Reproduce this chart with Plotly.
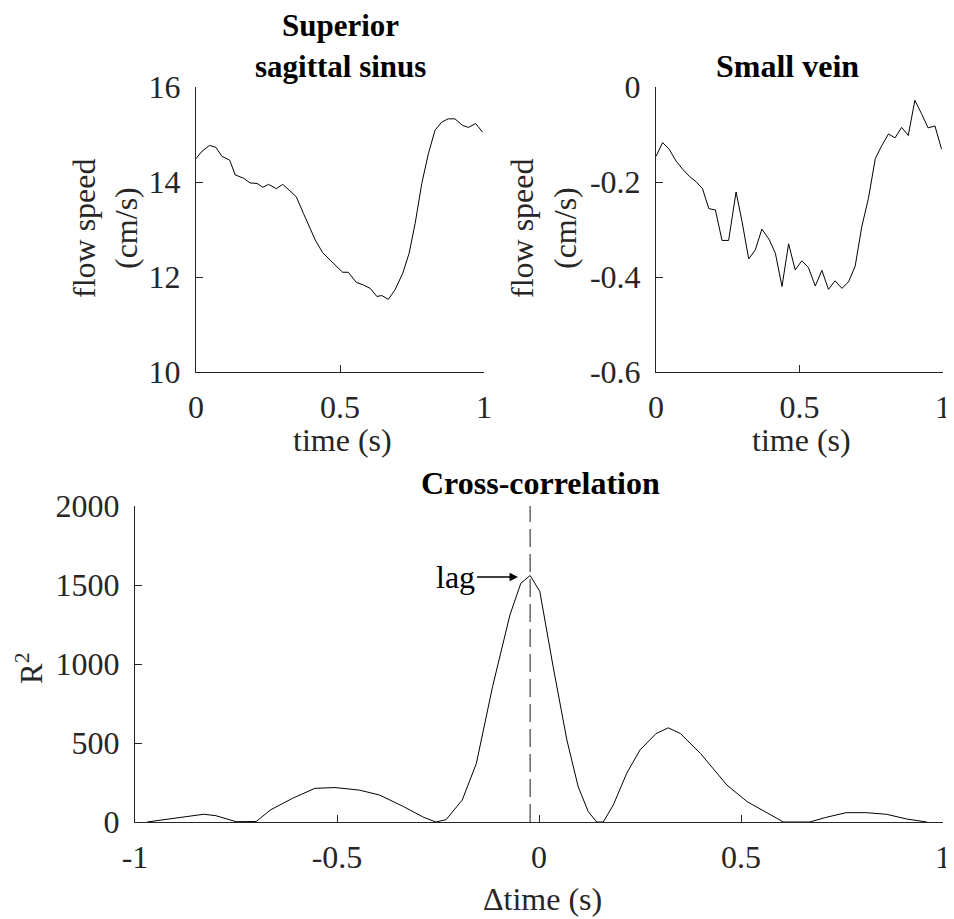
import plotly.graph_objects as go

# Superior sagittal sinus, flow speed over one cardiac cycle
sss_time = [0.0, 0.021, 0.047, 0.069, 0.09, 0.117, 0.136, 0.165, 0.188, 0.212, 0.232, 0.252,
            0.279, 0.301, 0.325, 0.348, 0.373, 0.414, 0.44, 0.472, 0.509, 0.529, 0.556, 0.582,
            0.605, 0.628, 0.645, 0.668, 0.691, 0.718, 0.74, 0.761, 0.784, 0.807, 0.83, 0.853,
            0.876, 0.899, 0.926, 0.946, 0.971, 0.995]
sss_speed = [14.49, 14.65, 14.77, 14.73, 14.54, 14.46, 14.15, 14.08, 13.98, 13.97, 13.89, 13.95,
             13.86, 13.95, 13.82, 13.69, 13.34, 12.78, 12.51, 12.32, 12.10, 12.10, 11.89, 11.83,
             11.76, 11.59, 11.61, 11.53, 11.73, 12.08, 12.50, 13.13, 13.97, 14.60, 15.09, 15.26,
             15.33, 15.33, 15.19, 15.15, 15.23, 15.05]

# Small vein
vein_time = [0.0, 0.023, 0.046, 0.07, 0.093, 0.116, 0.139, 0.162, 0.184, 0.207, 0.23, 0.253,
             0.279, 0.3, 0.323, 0.346, 0.369, 0.395, 0.416, 0.439, 0.462, 0.485, 0.508, 0.531,
             0.555, 0.578, 0.601, 0.624, 0.648, 0.671, 0.694, 0.717, 0.74, 0.764, 0.787, 0.81,
             0.833, 0.856, 0.879, 0.902, 0.925, 0.948, 0.972, 0.995]
vein_speed = [-0.146, -0.117, -0.131, -0.156, -0.173, -0.188, -0.199, -0.214, -0.256, -0.259,
              -0.323, -0.323, -0.221, -0.284, -0.362, -0.343, -0.299, -0.322, -0.350, -0.420,
              -0.330, -0.385, -0.366, -0.380, -0.419, -0.386, -0.426, -0.408, -0.424, -0.410,
              -0.377, -0.294, -0.235, -0.151, -0.123, -0.099, -0.107, -0.085, -0.102, -0.028,
              -0.056, -0.086, -0.082, -0.131]

# Cross-correlation
xc_dt = [-0.97, -0.905, -0.83, -0.8, -0.75, -0.7, -0.665, -0.61, -0.555, -0.505, -0.445, -0.395,
         -0.335, -0.285, -0.255, -0.23, -0.19, -0.155, -0.115, -0.072, -0.045, -0.022, 0.002,
         0.035, 0.069, 0.097, 0.122, 0.143, 0.159, 0.184, 0.217, 0.25, 0.29, 0.32, 0.35, 0.4,
         0.465, 0.515, 0.565, 0.605, 0.67, 0.71, 0.76, 0.81, 0.86, 0.91, 0.96]
xc_r2 = [0, 23, 49, 40, 2, 3, 76, 150, 213, 218, 202, 171,
         97, 29, 0, 15, 139, 371, 856, 1310, 1511, 1560, 1460,
         983, 519, 223, 65, 0, 0, 108, 308, 456, 560, 596, 560, 433,
         234, 129, 55, 0, 0, 29, 59, 59, 49, 19, 0]
lag = -0.022

FONT = "Liberation Serif"
AX = "#262626"

# the page body adds an 8px margin, so the figure is a bit smaller than the window
OFF = 8
W, H = 954 - OFF, 919 - OFF


def px(x):
    return (x - OFF) / W


def py(y):
    return 1 - (y - OFF) / H


def axis(domain, rng, vals, text, standoff):
    return dict(
        domain=domain, range=rng, tickvals=vals, ticktext=text,
        showline=True, linecolor=AX, linewidth=1, mirror=False,
        ticks="inside", ticklen=7, tickcolor=AX, tickwidth=1,
        showgrid=False, zeroline=False, fixedrange=True, automargin=False,
        tickfont=dict(family=FONT, size=32, color="#262626"),
        ticklabelstandoff=standoff,
    )


line = dict(color="black", width=1)

fig = go.Figure()
fig.add_trace(go.Scatter(x=sss_time, y=sss_speed, mode="lines", line=line, xaxis="x", yaxis="y"))
fig.add_trace(go.Scatter(x=vein_time, y=vein_speed, mode="lines", line=line, xaxis="x2", yaxis="y2"))
fig.add_trace(go.Scatter(x=xc_dt, y=xc_r2, mode="lines", line=line, xaxis="x3", yaxis="y3"))
fig.add_trace(go.Scatter(x=[lag, lag], y=[0, 2000], mode="lines",
                         line=dict(color="#1a1a1a", width=1, dash="18px,7px"),
                         xaxis="x3", yaxis="y3"))

top_dom = [py(372), py(87)]
bot_dom = [py(822), py(506)]

fig.update_layout(
    width=W, height=H,
    margin=dict(l=0, r=0, t=0, b=0, autoexpand=False),
    paper_bgcolor="white", plot_bgcolor="white",
    showlegend=False,
    xaxis=axis([px(196), px(484)], [0, 1], [0, 0.5, 1], ["0", "0.5", "1"], 7),
    yaxis=axis(top_dom, [10, 16], [10, 12, 14, 16], ["10", "12", "14", "16"], 8),
    xaxis2=axis([px(656), px(943)], [0, 1], [0, 0.5, 1], ["0", "0.5", "1"], 7),
    yaxis2=axis(top_dom, [-0.6, 0], [-0.6, -0.4, -0.2, 0], ["-0.6", "-0.4", "-0.2", "0"], 8),
    xaxis3=axis([px(135), px(943)], [-1, 1], [-1, -0.5, 0, 0.5, 1], ["-1", "-0.5", "0", "0.5", "1"], 7),
    yaxis3=axis(bot_dom, [0, 2000], [0, 500, 1000, 1500, 2000], ["0", "500", "1000", "1500", "2000"], 8),
)
fig.layout.xaxis.anchor = "y"
fig.layout.yaxis.anchor = "x"
fig.layout.xaxis2.anchor = "y2"
fig.layout.yaxis2.anchor = "x2"
fig.layout.xaxis3.anchor = "y3"
fig.layout.yaxis3.anchor = "x3"


def label(text, x, y, size=32, bold=False, angle=0):
    fig.add_annotation(
        text=f"<b>{text}</b>" if bold else text,
        x=px(x), y=py(y), xref="paper", yref="paper",
        xanchor="center", yanchor="middle", showarrow=False, textangle=angle,
        borderpad=0,
        font=dict(family=FONT, size=size, color="black" if bold else "#262626"),
    )


# titles
label("Superior", 340, 25, size=31, bold=True)
label("sagittal sinus", 340, 66, size=31, bold=True)
label("Small vein", 787, 66, size=32, bold=True)
label("Cross-correlation", 540, 483, size=32, bold=True)

# axis titles
label("time (s)", 342, 440, size=32)
label("time (s)", 801, 440, size=32)
label("Δtime (s)", 542, 899, size=32)
label("flow speed", 84, 228, angle=-90)
label("(cm/s)", 126, 228, angle=-90)
label("flow speed", 522, 228, angle=-90)
label("(cm/s)", 565, 228, angle=-90)
label("R<sup>2</sup>", 29, 668, size=31, angle=-90)

# lag marker
fig.add_annotation(
    text="lag", x=-0.052, y=1551, xref="x3", yref="y3",
    ax=-62, ay=0, showarrow=True, arrowhead=2, arrowsize=1.2, arrowwidth=1.4,
    arrowcolor="black", standoff=0,
    font=dict(family=FONT, size=32, color="black"),
)

fig.write_html("out.html")
